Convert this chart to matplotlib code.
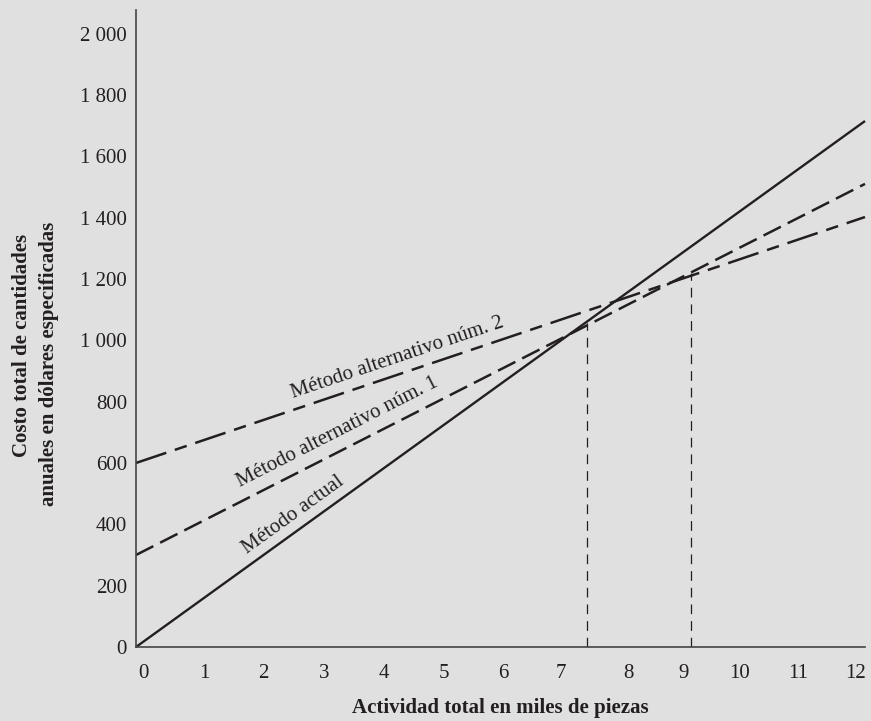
import matplotlib
matplotlib.use("Agg")
import matplotlib.pyplot as plt
import numpy as np

plt.rcParams['font.family'] = ['Liberation Serif', 'DejaVu Serif']
plt.rcParams['lines.scale_dashes'] = False

# Data (thousands of pieces -> annual cost in dollars)
x_ends = [0, 12]
actual = [0, 1715]
alt1 = [300, 1510]
alt2 = [600, 1402]
breakeven_x = [7.43, 9.14]
breakeven_y = [1056, 1220]

xtick_labels = [str(i) for i in range(13)]
xtick_pos = [0.12, 1.12, 2.09, 3.09, 4.08, 5.07, 6.05, 7.0, 8.1, 9.02, 9.94, 10.9, 11.84]
ytick_vals = [0, 200, 400, 600, 800, 1000, 1200, 1400, 1600, 1800, 2000]
ytick_labels = ['0', '200', '400', '600', '800', '1 000', '1 200', '1 400', '1 600', '1 800', '2 000']

bg = '#e0e0e0'
ink = '#231f20'

fig = plt.figure(figsize=(8.71, 7.21), dpi=100, facecolor=bg)
ax = fig.add_axes([136/871, 74/721, 729/871, 637/721])
ax.set_facecolor(bg)
ax.set_xlim(0, 12)
ax.set_ylim(0, 2077)

ax.plot(x_ends, actual, color=ink, lw=1.7, solid_capstyle='butt', clip_on=False)
ax.plot(x_ends, alt1, color=ink, lw=1.8, dashes=(14, 5.5), clip_on=False)
ax.plot(x_ends, alt2, color=ink, lw=1.8, dashes=(23, 6.5, 9, 6.5), clip_on=False)
for bx, by in zip(breakeven_x, breakeven_y):
    ax.plot([bx, bx], [0, by], color=ink, lw=0.9, dashes=(7, 5))

for s in ['top', 'right']:
    ax.spines[s].set_visible(False)
for s in ['left', 'bottom']:
    ax.spines[s].set_color('#444444')
    ax.spines[s].set_linewidth(1.2)

ax.set_xticks(xtick_pos)
ax.set_xticklabels(xtick_labels)
ax.set_yticks(ytick_vals)
ax.set_yticklabels(ytick_labels)
ax.tick_params(axis='both', length=0, labelsize=15, colors=ink)
ax.tick_params(axis='x', pad=12.5)
ax.tick_params(axis='y', pad=6.5)

fig.canvas.draw()

def screen_angle(xs, ys):
    p0 = ax.transData.transform((xs[0], ys[0]))
    p1 = ax.transData.transform((xs[1], ys[1]))
    return np.degrees(np.arctan2(p1[1] - p0[1], p1[0] - p0[0]))

labels = [
    ('Método actual', 2.58, 430, actual),
    ('Método alternativo núm. 1', 3.31, 701, alt1),
    ('Método alternativo núm. 2', 4.31, 942, alt2),
]
for txt, lx, ly, ser in labels:
    ax.text(lx, ly, txt, rotation=screen_angle(x_ends, ser), rotation_mode='anchor',
            ha='center', va='center', fontsize=15, color=ink)

fig.text(500/871, 1 - 708/721, 'Actividad total en miles de piezas', ha='center', va='center',
         fontsize=15, fontweight='bold', color=ink)
fig.text(22/871, 1 - 345/721, 'Costo total de cantidades', rotation=90, ha='center', va='center',
         fontsize=15, fontweight='bold', color=ink)
fig.text(49/871, 1 - 364/721, 'anuales en dólares especificadas', rotation=90, ha='center', va='center',
         fontsize=15, fontweight='bold', color=ink)

fig.savefig('out.png', dpi=100, facecolor=bg)
